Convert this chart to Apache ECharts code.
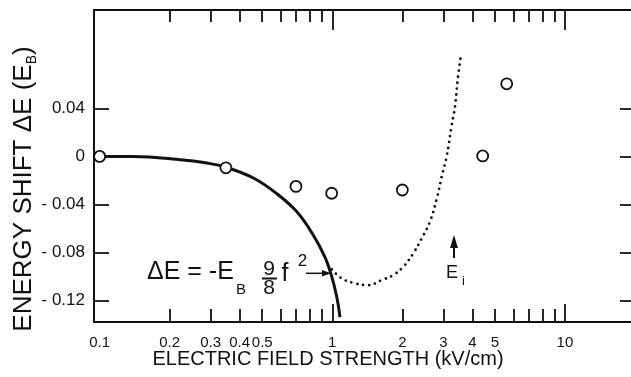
<!DOCTYPE html>
<html>
<head>
<meta charset="utf-8">
<script src="https://cdn.jsdelivr.net/npm/echarts@6/dist/echarts.min.js"></script>
<style>
  html, body { margin: 0; padding: 0; background: #fff; }
  #chart { width: 631px; height: 377px; }
</style>
</head>
<body>
<div id="chart"></div>
<script>
// measured points (open circles)
const expField = [0.1, 0.349, 0.698, 0.994, 2.0, 4.43, 5.62];
const expShift = [0, -0.0095, -0.025, -0.0307, -0.028, 0.0004, 0.0605];

// solid curve, dE = -EB 9/8 f^2
const quadField = [0.1, 0.139, 0.228, 0.289, 0.349, 0.458, 0.577, 0.703, 0.828, 0.93, 0.994, 1.045, 1.079];
const quadShift = [0, 0, -0.003, -0.0055, -0.009, -0.018, -0.031, -0.046, -0.0655, -0.084, -0.1, -0.117, -0.134];

// dotted curve
const dotField = [0.994, 1.098, 1.231, 1.428, 1.631, 1.829, 2.019, 2.229, 2.423, 2.63, 2.827, 2.953, 3.102, 3.261, 3.369, 3.459, 3.574];
const dotShift = [-0.0942, -0.1017, -0.1054, -0.1073, -0.1031, -0.0989, -0.092, -0.0808, -0.0683, -0.0544, -0.0336, -0.0169, 0, 0.0263, 0.0416, 0.0639, 0.0848];

// axis ticks / labels
const xLabelValues = [0.1, 0.2, 0.3, 0.4, 0.5, 1, 2, 3, 4, 5, 10];
const xMajorTicks = [1, 10];
const xMinorTicks = [0.2, 0.3, 0.4, 0.5, 0.6, 0.7, 0.8, 0.9, 2, 3, 4, 5, 6, 7, 8, 9];
const yTickValues = [-0.12, -0.08, -0.04, 0, 0.04];

const INK = "#111";
const FONT = "Liberation Sans";

const zip = (xs, ys) => xs.map((x, i) => [x, ys[i]]);

function xAxisDef(position, ticks, tickLen, withLabels) {
  return {
    type: "log",
    position: position,
    min: 0.0946,
    max: 20,
    axisLine: { show: true, onZero: false, lineStyle: { color: INK, width: 2 } },
    axisTick: {
      show: true,
      inside: true,
      length: tickLen,
      customValues: ticks,
      lineStyle: { color: INK, width: 1.8 },
    },
    axisLabel: withLabels
      ? {
          show: true,
          customValues: xLabelValues,
          margin: 13,
          color: INK,
          fontFamily: FONT,
          fontSize: 15,
          formatter: (v) => String(+(+v).toPrecision(3)),
        }
      : { show: false },
    splitLine: { show: false },
    minorTick: { show: false },
  };
}

function yAxisDef(position, withLabels) {
  return {
    type: "value",
    position: position,
    min: -0.138,
    max: 0.122,
    axisLine: { show: true, onZero: false, lineStyle: { color: INK, width: 2 } },
    axisTick: {
      show: true,
      inside: true,
      length: 15,
      customValues: yTickValues,
      lineStyle: { color: INK, width: 1.8 },
    },
    axisLabel: withLabels
      ? {
          show: true,
          customValues: yTickValues,
          margin: 9,
          color: INK,
          fontFamily: FONT,
          fontSize: 17,
          formatter: (v) => {
            const n = Math.round(v * 100) / 100;
            if (n === 0) return "0";
            return n < 0 ? "- " + Math.abs(n).toFixed(2) : n.toFixed(2);
          },
        }
      : { show: false },
    splitLine: { show: false },
  };
}

function txt(text, x, y, size, extra) {
  return {
    type: "text",
    x: x,
    y: y,
    style: Object.assign(
      {
        text: text,
        fill: INK,
        font: size + "px '" + FONT + "'",
        align: "center",
        verticalAlign: "middle",
      },
      extra || {}
    ),
  };
}

function annotations() {
  return [
    // x title
    txt("ELECTRIC FIELD STRENGTH (kV/cm)", 328, 359, 20),
    // y title
    {
      type: "text",
      x: 24,
      y: 189,
      rotation: Math.PI / 2,
      style: {
        text: "ENERGY SHIFT ΔE (E{b|B})",
        fill: INK,
        font: "26px '" + FONT + "'",
        lineHeight: 30,
        align: "center",
        verticalAlign: "middle",
        rich: {
          b: { fontSize: 14, fontFamily: FONT, lineHeight: 14, verticalAlign: "bottom", fill: INK },
        },
      },
    },
    // formula
    txt("ΔE = -E", 147, 272, 25, { align: "left" }),
    txt("B", 241, 290, 15),
    txt("9", 269, 269.5, 21),
    { type: "line", shape: { x1: 262, y1: 278.5, x2: 277, y2: 278.5 }, style: { stroke: INK, lineWidth: 2 } },
    txt("8", 269, 288, 21),
    txt("f", 285, 274, 25),
    txt("2", 302.5, 261.5, 17),
    { type: "line", shape: { x1: 306, y1: 273.3, x2: 324, y2: 273.3 }, style: { stroke: INK, lineWidth: 1.5 } },
    { type: "polygon", shape: { points: [[331, 273.3], [322, 270], [322, 276.6]] }, style: { fill: INK } },
    // E_i marker
    { type: "line", shape: { x1: 454, y1: 258, x2: 454, y2: 245 }, style: { stroke: INK, lineWidth: 2 } },
    { type: "polygon", shape: { points: [[454, 235], [450, 248], [458, 248]] }, style: { fill: INK } },
    txt("E", 452, 273.5, 18),
    txt("i", 463.5, 281, 13),
  ];
}

let chart;

function renderChart() {
  chart = echarts.init(document.querySelector("#chart"), null, { renderer: "canvas" });
  chart.setOption({
    animation: false,
    backgroundColor: "#fff",
    grid: { left: 94, top: 10, width: 541, bottom: 55, containLabel: false, outerBoundsMode: "none" },
    xAxis: [
      xAxisDef("bottom", xMajorTicks, 18, true),
      xAxisDef("bottom", xMinorTicks, 13, false),
      xAxisDef("top", xMajorTicks, 20, false),
      xAxisDef("top", xMinorTicks, 12, false),
    ],
    yAxis: [yAxisDef("left", true), yAxisDef("right", false)],
    series: [
      {
        name: "quadratic",
        type: "line",
        data: zip(quadField, quadShift),
        smooth: 0.4,
        symbol: "none",
        lineStyle: { color: INK, width: 3 },
        z: 2,
      },
      {
        name: "dotted",
        type: "line",
        data: zip(dotField, dotShift),
        smooth: 0.4,
        symbol: "none",
        lineStyle: { color: INK, width: 2.8, type: [0, 6], cap: "round" },
        z: 2,
      },
      {
        name: "measured",
        type: "scatter",
        data: zip(expField, expShift),
        symbol: "circle",
        symbolSize: 11,
        itemStyle: { color: "#fff", borderColor: INK, borderWidth: 1.8, opacity: 1 },
        z: 5,
      },
    ],
    graphic: annotations(),
  });
}

renderChart();
</script>
</body>
</html>
